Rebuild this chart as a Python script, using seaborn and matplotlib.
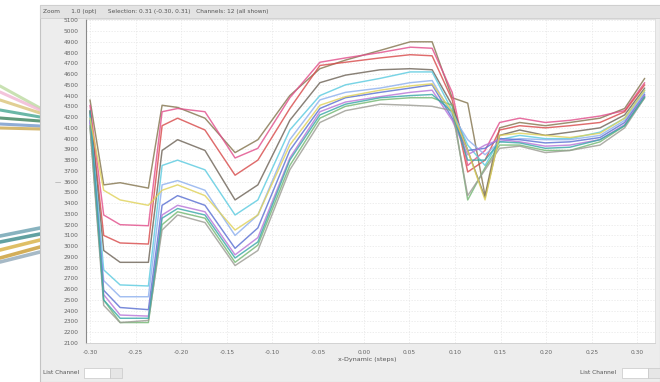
import matplotlib
matplotlib.use("Agg")
import matplotlib.pyplot as plt
import numpy as np
import pandas as pd
import seaborn as sns
from matplotlib.patches import Rectangle
from matplotlib.lines import Line2D

# Sample positions along the sweep axis
x_pos = [-0.300, -0.285, -0.267, -0.236, -0.221, -0.204, -0.174, -0.141, -0.116,
         -0.081, -0.048, -0.020, 0.018, 0.051, 0.075, 0.097, 0.114, 0.133, 0.149,
         0.171, 0.199, 0.226, 0.259, 0.286, 0.308]

# Channel readings (one list per channel)
ch_olive = [4360, 3570, 3590, 3540, 4310, 4290, 4190, 3870, 3990, 4400, 4650, 4730, 4820,
            4900, 4900, 4380, 4330, 3470, 4100, 4150, 4120, 4150, 4190, 4280, 4560]
ch_pink = [4310, 3290, 3200, 3190, 4250, 4280, 4250, 3820, 3910, 4380, 4710, 4750, 4800,
           4850, 4840, 4430, 3750, 3890, 4150, 4190, 4150, 4170, 4210, 4260, 4520]
ch_red = [4260, 3100, 3030, 3020, 4120, 4190, 4080, 3660, 3800, 4280, 4680, 4710, 4750,
          4780, 4770, 4360, 3690, 3800, 4080, 4120, 4100, 4120, 4150, 4250, 4500]
ch_brown = [4250, 2960, 2850, 2850, 3890, 3990, 3890, 3430, 3570, 4170, 4520, 4590, 4640,
            4650, 4640, 4310, 3890, 3450, 4030, 4080, 4030, 4060, 4100, 4220, 4470]
ch_cyan = [4220, 2780, 2640, 2630, 3750, 3800, 3710, 3290, 3430, 4080, 4400, 4500, 4560,
           4620, 4620, 4260, 3940, 3750, 3990, 4030, 4000, 4000, 4060, 4190, 4450]
ch_lightblue = [4190, 2680, 2530, 2530, 3570, 3610, 3520, 3100, 3290, 3990, 4360, 4430, 4470,
                4520, 4540, 4220, 3990, 3850, 3970, 4000, 3990, 3990, 4030, 4170, 4430]
ch_blue = [4170, 2590, 2430, 2410, 3380, 3470, 3380, 2980, 3170, 3890, 4280, 4380, 4430,
           4470, 4500, 4190, 3890, 3910, 4000, 3990, 3960, 3970, 4010, 4150, 4410]
ch_purple = [4150, 2550, 2360, 2350, 3290, 3380, 3320, 2920, 3080, 3820, 4250, 4340, 4390,
             4430, 4450, 4170, 3850, 3940, 3990, 3970, 3930, 3940, 3990, 4130, 4400]
ch_green = [4120, 2500, 2290, 2290, 3200, 3320, 3260, 2850, 3010, 3750, 4190, 4300, 4360,
            4380, 4380, 4310, 3430, 3730, 3940, 3940, 3890, 3890, 3970, 4120, 4380]
ch_gray = [4100, 2450, 2290, 2310, 3150, 3290, 3220, 2820, 2960, 3710, 4150, 4260, 4320,
           4310, 4300, 4260, 3470, 3710, 3910, 3930, 3870, 3890, 3940, 4100, 4380]
ch_teal = [4260, 2500, 2330, 2330, 3260, 3350, 3290, 2890, 3040, 3800, 4220, 4320, 4380,
           4400, 4410, 4250, 3800, 3800, 3970, 3960, 3910, 3920, 3990, 4120, 4390]
ch_yellow = [4190, 3520, 3430, 3380, 3520, 3570, 3470, 3150, 3290, 3940, 4310, 4390, 4450,
             4490, 4510, 4250, 3890, 3430, 4030, 4050, 4030, 4010, 4050, 4190, 4450]

channel_names = ["Ch 1", "Ch 2", "Ch 3", "Ch 4", "Ch 5", "Ch 6",
                 "Ch 7", "Ch 8", "Ch 9", "Ch 10", "Ch 11", "Ch 12"]
channel_values = [ch_olive, ch_pink, ch_red, ch_brown, ch_cyan, ch_lightblue,
                  ch_blue, ch_purple, ch_green, ch_gray, ch_teal, ch_yellow]
channel_colors = ["#857650", "#e2508c", "#d84c4c", "#6f6559", "#5ccbe0", "#8eb0ee",
                  "#5a70d2", "#b876d8", "#74b874", "#9c9c94", "#3aa8a8", "#e0d25a"]

y_ticks = list(range(2100, 5101, 100))
x_ticks = [-0.30, -0.25, -0.20, -0.15, -0.10, -0.05, 0.00, 0.05, 0.10, 0.15, 0.20, 0.25, 0.30]

frames = []
for name, vals in zip(channel_names, channel_values):
    frames.append(pd.DataFrame({"x": x_pos, "value": vals, "channel": name}))
df = pd.concat(frames, ignore_index=True)

sns.set_style("white")
plt.rcParams["font.family"] = ["DejaVu Sans"]

W, H = 660, 382
fig = plt.figure(figsize=(W / 100, H / 100), dpi=100)
fig.patch.set_facecolor("white")


def fig_rect(x, y, w, h, **kw):
    """Rectangle in pixel units measured from the top-left corner, kept behind the axes."""
    fig.add_artist(Rectangle((x / W, 1 - (y + h) / H), w / W, h / H,
                             transform=fig.transFigure, zorder=-5, **kw))


# decorative fibres at the far left edge
left_top = [("#b8d89a", 86, 108), ("#f0b0d0", 92, 110), ("#d8c070", 100, 113),
            ("#3aa08a", 110, 117), ("#2e7a50", 118, 121), ("#6a90c8", 124, 126),
            ("#c8a040", 128, 129)]
for c, y0, y1 in left_top:
    fig.add_artist(Line2D([0.0, 40 / W], [1 - y0 / H, 1 - y1 / H], color=c, lw=2.2,
                          alpha=0.75, transform=fig.transFigure, zorder=-6))
left_bot = [("#6aa0b0", 236, 228), ("#3a8a8a", 242, 234), ("#d8b040", 250, 240),
            ("#c89a30", 258, 247), ("#90a8b8", 262, 252)]
for c, y0, y1 in left_bot:
    fig.add_artist(Line2D([0.0, 40 / W], [1 - y0 / H, 1 - y1 / H], color=c, lw=2.6,
                          alpha=0.8, transform=fig.transFigure, zorder=-6))

# application window and its header strip
fig_rect(40, 5, 620, 377, facecolor="#ededed", edgecolor="#c4c4c4", lw=0.8)
fig_rect(40, 5, 620, 13, facecolor="#e3e3e3", edgecolor="#cfcfcf", lw=0.6)
fig.text(43 / W, 1 - 11.5 / H,
         "Zoom      1.0 (opt)      Selection: 0.31 (-0.30, 0.31)   Channels: 12 (all shown)",
         fontsize=4.2, color="#555555", va="center", ha="left")

ax = fig.add_axes([86 / W, 39 / H, 569 / W, 324 / H])
ax.set_facecolor("white")
sns.lineplot(data=df, x="x", y="value", hue="channel", palette=channel_colors,
             estimator=None, sort=False, linewidth=1.05, alpha=0.82, legend=False, ax=ax)

ax.set_xlim(-0.3044, 0.3193)
ax.set_ylim(2100, 5112)
ax.set_xticks(x_ticks)
ax.set_xticklabels([f"{v:.2f}" for v in x_ticks])
ax.set_yticks(y_ticks)
ax.set_yticklabels([str(v) for v in y_ticks])
ax.tick_params(axis="both", labelsize=4.2, colors="#666666", length=2, width=0.5)
ax.tick_params(axis="x", pad=3)
ax.grid(True, color="#e6e6e6", lw=0.5, ls=(0, (2, 2)))
ax.set_xlabel("")
ax.set_ylabel("")
for s in ["top", "right"]:
    ax.spines[s].set_color("#dddddd")
    ax.spines[s].set_linewidth(0.6)
ax.spines["left"].set_color("#8a8a8a")
ax.spines["left"].set_linewidth(0.8)
ax.spines["bottom"].set_color("#cfcfcf")
ax.spines["bottom"].set_linewidth(0.6)

fig.text(58 / W, 1 - 183 / H, "—", fontsize=4.5, color="#777777", ha="center", va="center")
fig.text(338 / W, 1 - 360 / H, "x-Dynamic (steps)", fontsize=4.6, color="#555555",
         ha="left", va="center")

# channel selectors along the bottom edge
fig.text(43 / W, 1 - 373 / H, "List Channel", fontsize=4.2, color="#555555", va="center")
fig_rect(84, 368, 26, 10, facecolor="white", edgecolor="#c8c8c8", lw=0.5)
fig_rect(110, 368, 12, 10, facecolor="#e6e6e6", edgecolor="#c8c8c8", lw=0.5)
fig.text(580 / W, 1 - 373 / H, "List Channel", fontsize=4.2, color="#555555", va="center")
fig_rect(622, 368, 26, 10, facecolor="white", edgecolor="#c8c8c8", lw=0.5)
fig_rect(648, 368, 12, 10, facecolor="#e6e6e6", edgecolor="#c8c8c8", lw=0.5)

fig.savefig("out.png", dpi=100, facecolor=fig.get_facecolor())
